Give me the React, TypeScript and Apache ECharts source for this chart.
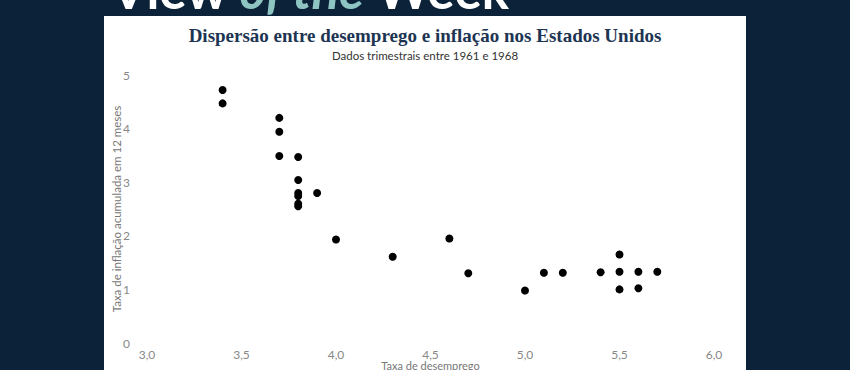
import React, { useEffect, useRef } from "react";
import * as echarts from "echarts";

const unemployment = [3.4, 3.4, 3.7, 3.7, 3.7, 3.8, 3.8, 3.8, 3.8, 3.8, 3.8, 3.9, 4.0, 4.3, 4.6, 4.7, 5.0, 5.1, 5.2, 5.4, 5.5, 5.5, 5.5, 5.6, 5.6, 5.7];
const inflation = [4.72, 4.47, 4.2, 3.94, 3.49, 3.47, 3.04, 2.8, 2.74, 2.6, 2.55, 2.8, 1.93, 1.61, 1.95, 1.3, 0.98, 1.31, 1.31, 1.32, 1.65, 1.33, 1.0, 1.33, 1.02, 1.33];
const xTicks = { min: 3, max: 6, interval: 0.5 };
const yTicks = { min: 0, max: 5, interval: 1 };

const titleText = "Dispersão entre desemprego e inflação nos Estados Unidos";
const subtitleText = "Dados trimestrais entre 1961 e 1968";
const xName = "Taxa de desemprego";
const yName = "Taxa de inflação acumulada em 12 meses";

export default function App() {
  const ref = useRef<HTMLDivElement>(null);
  useEffect(() => {
    if (!ref.current) return;
    const chart = echarts.init(ref.current, undefined, { renderer: "svg" });
    const data = unemployment.map((x, i) => [x, inflation[i]]);
    const font = "Lato, 'Open Sans', sans-serif";
    chart.setOption({
      animation: false,
      backgroundColor: "#0b2238",
      graphic: [
        {
          type: "rect",
          z: -10,
          shape: { x: 104, y: 16, width: 642, height: 360 },
          style: { fill: "#ffffff" },
        },
        {
          type: "text",
          x: 111,
          y: 15,
          style: {
            rich: {
              w: { fill: "#ffffff", fontSize: 51, fontWeight: 700, fontFamily: font },
              t: { fill: "#8ec5c2", fontSize: 51, fontStyle: "italic", fontWeight: 700, fontFamily: font },
            },
            text: "{w|View }{t|of the}{w| Week}",
            verticalAlign: "bottom",
          },
        },
        {
          type: "text",
          x: 425,
          y: 35,
          style: {
            text: titleText,
            fill: "#1d3553",
            fontSize: 19,
            fontWeight: "bold",
            fontFamily: "'Liberation Serif', serif",
            align: "center",
            verticalAlign: "middle",
          },
        },
        {
          type: "text",
          x: 425,
          y: 55,
          style: {
            text: subtitleText,
            fill: "#333333",
            fontSize: 11.5,
            fontFamily: font,
            align: "center",
            verticalAlign: "middle",
          },
        },
      ],
      grid: { left: 147, right: 136, top: 75, bottom: 27, containLabel: false, outerBoundsMode: "none" },
      xAxis: {
        type: "value",
        min: xTicks.min,
        max: xTicks.max,
        interval: xTicks.interval,
        name: xName,
        nameLocation: "middle",
        nameGap: 17,
        nameMoveOverlap: false,
        nameTextStyle: { color: "#777777", fontSize: 11, fontFamily: font },
        axisLine: { show: false },
        axisTick: { show: false },
        splitLine: { show: false },
        axisLabel: {
          color: "#888888",
          fontSize: 12,
          fontFamily: font,
          margin: 5,
          formatter: (v: number) => v.toFixed(1).replace(".", ","),
        },
      },
      yAxis: {
        type: "value",
        min: yTicks.min,
        max: yTicks.max,
        interval: yTicks.interval,
        name: yName,
        nameLocation: "middle",
        nameGap: 25,
        nameMoveOverlap: false,
        nameTextStyle: { color: "#777777", fontSize: 11.5, fontFamily: font },
        axisLine: { show: false },
        axisTick: { show: false },
        splitLine: { show: false },
        axisLabel: { color: "#888888", fontSize: 12, fontFamily: font, margin: 17 },
      },
      series: [
        {
          type: "scatter",
          data,
          symbolSize: 8,
          itemStyle: { color: "#000000", opacity: 1 },
        },
      ],
    });
    return () => chart.dispose();
  }, []);
  return <div ref={ref} style={{ position: "absolute", left: 0, top: 0, width: 850, height: 370 }} />;
}
